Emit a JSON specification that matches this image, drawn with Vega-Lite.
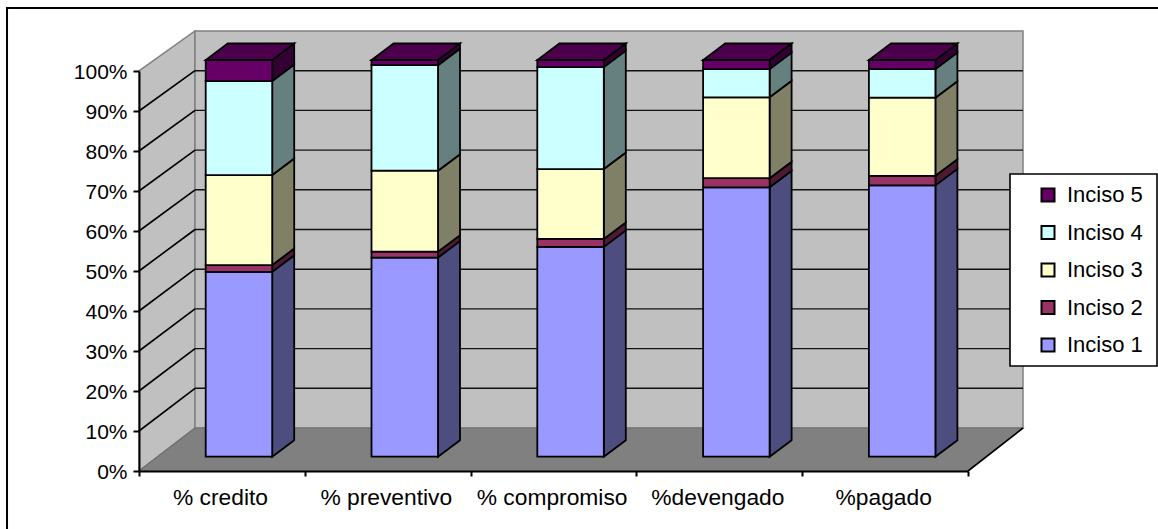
{
"$schema":"https://vega.github.io/schema/vega-lite/v6.json",
"width":829,"height":400,
"autosize":{"type":"none"},
"padding":{"left":139,"top":71,"right":190,"bottom":58},
"background":"white",
"config":{"view":{"stroke":null},"font":"Liberation Sans",
"axis":{"labelFont":"Liberation Sans","labelColor":"#000000"},
"legend":{"labelFont":"Liberation Sans"}},
"datasets":{"bars":[
{"category":"% credito","series":"Inciso 1","value":46.6},{"category":"% credito","series":"Inciso 2","value":1.7},{"category":"% credito","series":"Inciso 3","value":22.7},{"category":"% credito","series":"Inciso 4","value":23.7},{"category":"% credito","series":"Inciso 5","value":5.3},
{"category":"% preventivo","series":"Inciso 1","value":50.2},{"category":"% preventivo","series":"Inciso 2","value":1.5},{"category":"% preventivo","series":"Inciso 3","value":20.4},{"category":"% preventivo","series":"Inciso 4","value":26.6},{"category":"% preventivo","series":"Inciso 5","value":1.3},
{"category":"% compromiso","series":"Inciso 1","value":52.9},{"category":"% compromiso","series":"Inciso 2","value":2.0},{"category":"% compromiso","series":"Inciso 3","value":17.6},{"category":"% compromiso","series":"Inciso 4","value":25.7},{"category":"% compromiso","series":"Inciso 5","value":1.8},
{"category":"%devengado","series":"Inciso 1","value":67.9},{"category":"%devengado","series":"Inciso 2","value":2.3},{"category":"%devengado","series":"Inciso 3","value":20.4},{"category":"%devengado","series":"Inciso 4","value":7.1},{"category":"%devengado","series":"Inciso 5","value":2.3},
{"category":"%pagado","series":"Inciso 1","value":68.4},{"category":"%pagado","series":"Inciso 2","value":2.4},{"category":"%pagado","series":"Inciso 3","value":19.7},{"category":"%pagado","series":"Inciso 4","value":7.2},{"category":"%pagado","series":"Inciso 5","value":2.3}
],
"grid":[{"v":10},{"v":20},{"v":30},{"v":40},{"v":50},{"v":60},{"v":70},{"v":80},{"v":90}]},
"layer":[
{"data":{"values":[{"x0":-0.796,"x1":8,"y0":-30,"y1":115.75}]},
 "mark":{"type":"rect","fill":"white","stroke":"#000000","strokeWidth":2},
 "encoding":{"x":{"field":"x0","type":"quantitative","scale":{"domain":[0,5],"nice":false,"zero":false},
   "axis":{"title":null,"values":[0,1,2,3,4,5],"tickCount":6,"grid":false,"zindex":1,"domainColor":"#000000","domainWidth":2,"tickColor":"#000000","tickWidth":2,"tickSize":5,"labelFontSize":22.8,"labelPadding":10,"labelOffset":81,"labelAngle":0,"labelAlign":"center","labelFlush":false,"labelOverlap":false,"labelBound":false,
   "labelExpr":"['% credito','% preventivo','% compromiso','%devengado','%pagado',''][datum.value]"}},
  "x2":{"field":"x1"},
  "y":{"field":"y0","type":"quantitative","scale":{"domain":[0,100],"nice":false,"zero":false},
   "axis":{"title":null,"values":[0,10,20,30,40,50,60,70,80,90,100],"tickCount":11,"grid":false,"zindex":1,"domainColor":"#000000","domainWidth":2,"tickColor":"#000000","tickWidth":2,"tickSize":6,"labelFontSize":21,"labelPadding":6,"labelOffset":1,"labelOverlap":false,"labelBound":false,"labelFlush":false,"labelExpr":"datum.value+'%'"}},
  "y2":{"field":"y1"}}},
{"data":{"values":[{"x":0,"y":0,"y2":100},{"x":0.3378,"y":10.75,"y2":110}]},
 "mark":{"type":"area","orient":"vertical","fill":"#C0C0C0","stroke":"#808080","strokeWidth":1.5},
 "encoding":{"x":{"field":"x","type":"quantitative"},"y":{"field":"y","type":"quantitative"},"y2":{"field":"y2"}}},
{"data":{"values":[{"x":0.3378,"x2":5.3317,"y":10.75,"y2":110}]},
 "mark":{"type":"rect","fill":"#C0C0C0","stroke":"#808080","strokeWidth":1.5},
 "encoding":{"x":{"field":"x","type":"quantitative"},"x2":{"field":"x2"},"y":{"field":"y","type":"quantitative"},"y2":{"field":"y2"}}},
{"data":{"values":[{"y":0,"x":0,"x2":5},{"y":10.75,"x":0.3378,"x2":5.3317}]},
 "mark":{"type":"area","orient":"horizontal","fill":"#808080","stroke":"#707070","strokeWidth":1.2},
 "encoding":{"y":{"field":"y","type":"quantitative"},"x":{"field":"x","type":"quantitative"},"x2":{"field":"x2"}}},
{"data":{"name":"grid"},
 "transform":[{"calculate":"10.75+datum.v*0.9925","as":"back"},{"calculate":"0.3378","as":"bx"},{"calculate":"0","as":"fx"}],
 "mark":{"type":"rule","color":"#000000","strokeWidth":1.6},
 "encoding":{"x":{"field":"fx","type":"quantitative"},"x2":{"field":"bx"},"y":{"field":"v","type":"quantitative"},"y2":{"field":"back"}}},
{"data":{"name":"grid"},
 "transform":[{"calculate":"10.75+datum.v*0.9925","as":"back"},{"calculate":"0.3378","as":"bx"},{"calculate":"5.3317","as":"ex"}],
 "mark":{"type":"rule","color":"#111111","strokeWidth":1.4},
 "encoding":{"x":{"field":"bx","type":"quantitative"},"x2":{"field":"ex"},"y":{"field":"back","type":"quantitative"}}},
{"data":{"values":[{"x":5,"x2":5.3317,"y":0,"y2":10.75}]},
 "mark":{"type":"rule","color":"#000000","strokeWidth":1.6},
 "encoding":{"x":{"field":"x","type":"quantitative"},"x2":{"field":"x2"},"y":{"field":"y","type":"quantitative"},"y2":{"field":"y2"}}},
{"data":{"values":[{"x":5.2533,"x2":6.14,"y":26.25,"y2":74.25}]},
 "mark":{"type":"rect","fill":"white","stroke":"#000000","strokeWidth":1.6},
 "encoding":{"x":{"field":"x","type":"quantitative"},"x2":{"field":"x2"},"y":{"field":"y","type":"quantitative"},"y2":{"field":"y2"}}},
{"data":{"name":"bars"},
 "transform":[
  {"stack":"value","groupby":["category"],"sort":[{"field":"series","order":"ascending"}],"as":["v0","v1"]},
  {"calculate":"indexof(['% credito','% preventivo','% compromiso','%devengado','%pagado'],datum.category)","as":"idx"},
  {"calculate":"[0,1]","as":"t"},{"flatten":["t"]},
  {"calculate":"datum.idx+0.4023+0.4011+datum.t*0.1327","as":"sx"},
  {"calculate":"3.575+datum.v0*0.99175+datum.t*4.125","as":"sy0"},
  {"calculate":"3.575+datum.v1*0.99175+datum.t*4.125","as":"sy1"}],
 "mark":{"type":"area","orient":"vertical","stroke":"#000000","strokeWidth":1.8,"opacity":1},
 "encoding":{"x":{"field":"sx","type":"quantitative"},"y":{"field":"sy0","type":"quantitative","stack":null},"y2":{"field":"sy1"},
  "detail":{"field":"category"},
  "color":{"field":"series","type":"nominal","legend":null,"scale":{"domain":["Inciso 5","Inciso 4","Inciso 3","Inciso 2","Inciso 1"],"range":["#330033","#668080","#808066","#4D1A33","#4D4D80"]}}}},
{"data":{"name":"bars"},
 "transform":[
  {"stack":"value","groupby":["category"],"sort":[{"field":"series","order":"ascending"}],"as":["v0","v1"]},
  {"filter":"datum.series==='Inciso 5'"},
  {"calculate":"indexof(['% credito','% preventivo','% compromiso','%devengado','%pagado'],datum.category)","as":"idx"},
  {"calculate":"[0,1]","as":"t"},{"flatten":["t"]},
  {"calculate":"datum.idx+0.4023+datum.t*0.1327","as":"tx0"},
  {"calculate":"datum.idx+0.4023+0.4011+datum.t*0.1327","as":"tx1"},
  {"calculate":"3.575+datum.v1*0.99175+datum.t*4.125","as":"ty"}],
 "mark":{"type":"area","orient":"horizontal","fill":"#4C004C","stroke":"#000000","strokeWidth":1.8},
 "encoding":{"y":{"field":"ty","type":"quantitative"},"x":{"field":"tx0","type":"quantitative","stack":null},"x2":{"field":"tx1"},"detail":{"field":"category"}}},
{"data":{"name":"bars"},
 "transform":[
  {"stack":"value","groupby":["category"],"sort":[{"field":"series","order":"ascending"}],"as":["v0","v1"]},
  {"calculate":"indexof(['% credito','% preventivo','% compromiso','%devengado','%pagado'],datum.category)","as":"idx"},
  {"calculate":"datum.idx+0.4023","as":"bx0"},
  {"calculate":"datum.idx+0.4023+0.4011","as":"bx1"},
  {"calculate":"3.575+datum.v0*0.99175","as":"fy0"},
  {"calculate":"3.575+datum.v1*0.99175","as":"fy1"}],
 "mark":{"type":"rect","stroke":"#000000","strokeWidth":1.8,"opacity":1},
 "encoding":{"x":{"field":"bx0","type":"quantitative"},"x2":{"field":"bx1"},"y":{"field":"fy0","type":"quantitative"},"y2":{"field":"fy1"},
  "color":{"field":"series","type":"nominal","scale":{"domain":["Inciso 5","Inciso 4","Inciso 3","Inciso 2","Inciso 1"],"range":["#660066","#CCFFFF","#FFFFCC","#993366","#9999FF"]},
   "legend":{"title":null,"orient":"none","legendX":898,"legendY":113,"padding":0,"rowPadding":15.5,"labelFontSize":22,"labelColor":"#000000","labelOffset":8,"symbolType":"square","symbolSize":169,"symbolStrokeColor":"#000000","symbolStrokeWidth":2,"symbolOpacity":1}}}}
],
"resolve":{"scale":{"color":"independent"}}
}
